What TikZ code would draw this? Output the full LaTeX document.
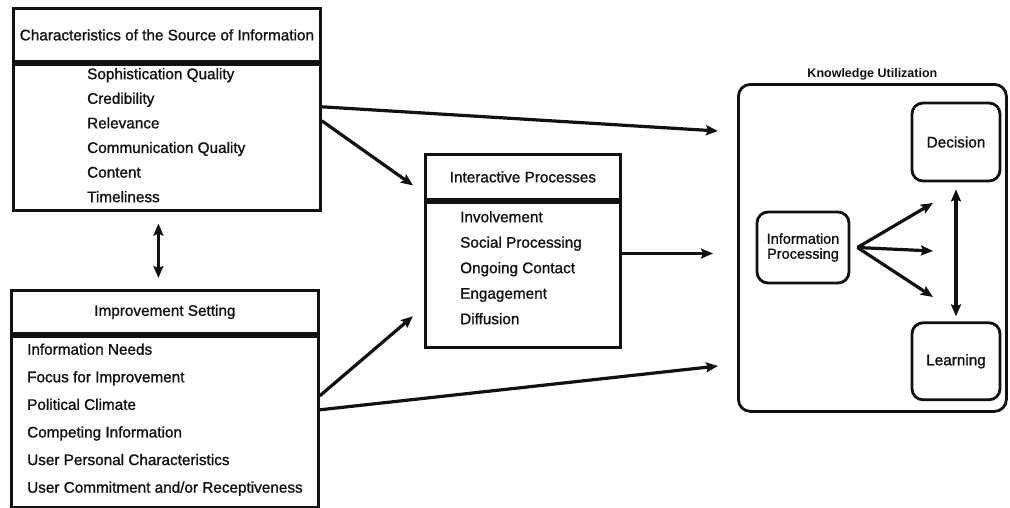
\documentclass[tikz,border=0pt]{standalone}
\usepackage{fontspec}
\setmainfont{Liberation Sans}
\newfontfamily\kufont{Liberation Sans}[FakeBold=1.2]
\usepackage{tikz}
\usepackage{xcolor}
\usetikzlibrary{positioning, arrows.meta}
\definecolor{kuink}{RGB}{17, 17, 17}
\tikzset{
    kubox/.style={rectangle, draw=kuink, line width=2.8pt, inner sep=0pt, font=\kufont\fontsize{15.3}{18}\selectfont, text=kuink},
    kuround/.style={kubox, rounded corners=11pt},
    kulist/.style={inner sep=0pt, align=left, text=kuink},
    kuflow/.style={draw=kuink, line width=3.2pt, -{Stealth[length=12pt, width=10pt, inset=2pt]}},
    kuboth/.style={kuflow, {Stealth[length=12pt, width=10pt, inset=2pt]}-{Stealth[length=12pt, width=10pt, inset=2pt]}}
}

\begin{document}
\begin{tikzpicture}[x=1pt, y=-1pt]
\useasboundingbox (0,0) rectangle (1010,507);
% source of information
\node[kubox, minimum width=307, minimum height=53, anchor=north west] (srchead) at (12,7) {Characteristics of the Source of Information};
\node[kubox, minimum width=307, minimum height=146, anchor=north] (srcbody) at (srchead.south) {};
\node[kulist, font=\kufont\fontsize{15.3}{24.6}\selectfont, anchor=west] (srclist) at ([xshift=75, yshift=2]srcbody.west) {Sophistication Quality\\Credibility\\Relevance\\Communication Quality\\Content\\Timeliness};
% improvement setting
\node[kubox, minimum width=307, minimum height=43, anchor=north west] (imphead) at (10,289) {Improvement Setting};
\node[kubox, minimum width=307, minimum height=171, anchor=north] (impbody) at (imphead.south) {};
\node[kulist, font=\kufont\fontsize{15.3}{27.6}\selectfont, anchor=west] (implist) at ([xshift=17, yshift=2]impbody.west) {Information Needs\\Focus for Improvement\\Political Climate\\Competing Information\\User Personal Characteristics\\User Commitment and/or Receptiveness};
% interactive processes
\node[kubox, minimum width=195, minimum height=45, anchor=north west] (iprhead) at (424,153) {Interactive Processes};
\node[kubox, minimum width=195, minimum height=145, anchor=north] (iprbody) at (iprhead.south) {};
\node[kulist, font=\kufont\fontsize{15.3}{25.5}\selectfont, anchor=west] (iprlist) at ([xshift=36, yshift=7]iprbody.west) {Involvement\\Social Processing\\Ongoing Contact\\Engagement\\Diffusion};
% knowledge utilization
\node[kuround, rounded corners=12pt, minimum width=268, minimum height=327, anchor=north west] (kubig) at (737,83) {};
\node[inner sep=0pt, text=kuink, font=\bfseries\fontsize{12.5}{14}\selectfont, above=3pt of kubig] (kutitle) {Knowledge Utilization};
\node[kuround, minimum width=88, minimum height=78] (kudec) at (956,142) {Decision};
\node[kuround, minimum width=88, minimum height=77, below=139pt of kudec] (kulearn) {Learning};
\node[kuround, minimum width=92, minimum height=71, align=center, font=\kufont\fontsize{14.5}{15}\selectfont] (kuinfo) at (803,247.5) {Information\\Processing};

% free ends of the long arrows
\coordinate (tipsrc) at (718,131);
\coordinate (tipipr) at (713,253.5);
\coordinate (tipimp) at (718,366);
\coordinate (kufan) at ([xshift=7]kuinfo.east);
\coordinate (kuup) at (933,203);
\coordinate (kumid) at (933,251);
\coordinate (kudown) at (933,297);

\draw[kuflow] ([yshift=-44]srcbody.north east) -- (tipsrc);
\draw[kuflow] ([yshift=-58]srcbody.north east) -- ([xshift=-11, yshift=-8.5]iprhead.west);
\draw[kuflow] ([yshift=-61]impbody.north east) -- ([xshift=-11, yshift=-41.5]iprbody.west);
\draw[kuflow] ([yshift=-75]impbody.north east) -- (tipimp);
\draw[kuflow] (iprbody.east |- tipipr) -- (tipipr);
\draw[kuboth] ([xshift=-8.5, yshift=-12]srcbody.south) -- ([xshift=-6.5, yshift=11]imphead.north);

\draw[kuflow] (kufan) -- (kuup);
\draw[kuflow] (kufan) -- (kumid);
\draw[kuflow] (kufan) -- (kudown);
\draw[kuboth] ([yshift=-7]kudec.south) -- ([yshift=5]kulearn.north);
\end{tikzpicture}
\end{document}
